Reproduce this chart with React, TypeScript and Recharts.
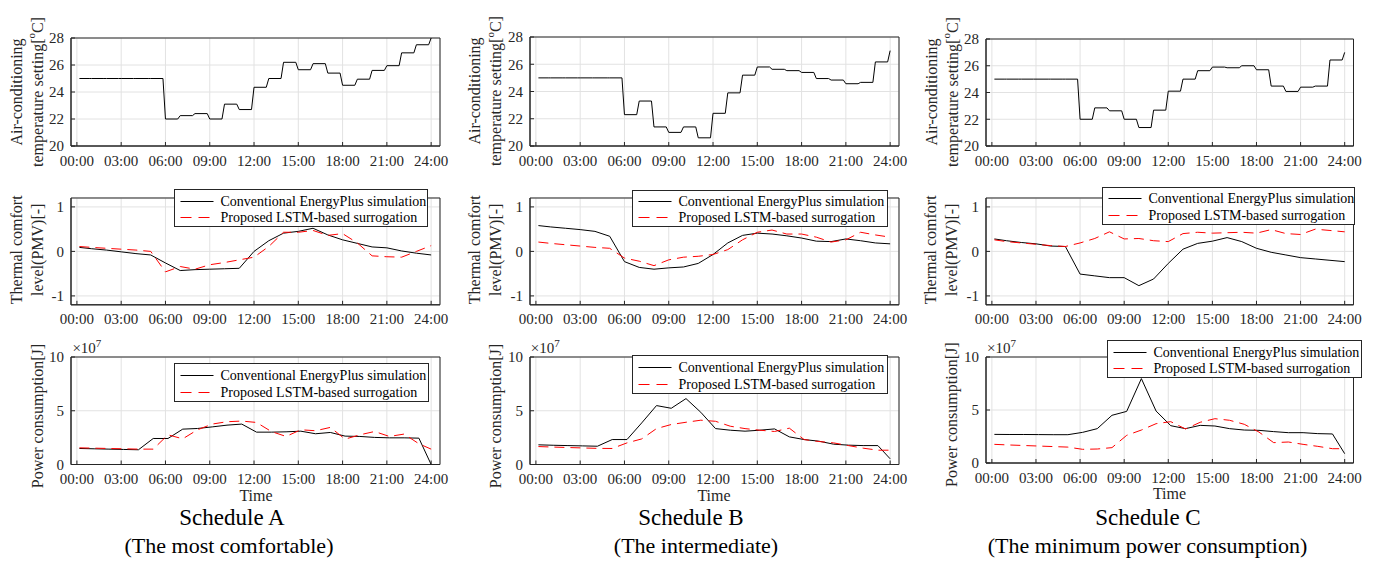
import React from 'react';
import { LineChart, Line, XAxis, YAxis, CartesianGrid, ReferenceArea } from 'recharts';

// ---------- data ----------
const HOUR_TICKS = [0, 3, 6, 9, 12, 15, 18, 21, 24];
const X_DOMAIN: [number, number] = [-0.4, 24.6];

// A/C set-point per hour (00..23) plus the value reached at 24:00
const setpointA = [25, 25, 25, 25, 25, 25, 22.0, 22.25, 22.4, 22.0, 23.1, 22.7, 24.35, 25.0, 26.2, 25.65, 26.1, 25.4, 24.5, 24.95, 25.6, 25.95, 26.9, 27.5, 28.0];
const setpointB = [25, 25, 25, 25, 25, 25, 22.3, 23.3, 21.4, 21.0, 21.4, 20.6, 22.4, 23.9, 25.2, 25.8, 25.63, 25.53, 25.4, 24.95, 24.84, 24.57, 24.67, 26.17, 27.0];
const setpointC = [25, 25, 25, 25, 25, 25, 22.0, 22.85, 22.63, 22.0, 21.38, 22.68, 24.1, 25.0, 25.63, 25.9, 25.85, 26.0, 25.7, 24.48, 24.08, 24.4, 24.48, 26.43, 27.0];

// PMV time stamps (hours)
const pmvTimes = [0.17, 1, 2, 3, 4, 5, 6, 7, 8, 9, 10, 11, 12, 13, 14, 15, 16, 17, 18, 19, 20, 21, 22, 23, 24];
const pmvConvA = [0.09, 0.06, 0.03, -0.01, -0.05, -0.08, -0.26, -0.43, -0.41, -0.40, -0.39, -0.38, 0.0, 0.24, 0.41, 0.45, 0.52, 0.37, 0.26, 0.18, 0.10, 0.08, 0.01, -0.04, -0.08];
const pmvLstmA = [0.11, 0.09, 0.07, 0.05, 0.03, 0.0, -0.46, -0.34, -0.40, -0.30, -0.25, -0.19, -0.13, 0.11, 0.43, 0.43, 0.47, 0.36, 0.40, 0.19, -0.10, -0.12, -0.13, 0.0, 0.13];
const pmvConvB = [0.58, 0.55, 0.52, 0.49, 0.45, 0.34, -0.23, -0.36, -0.40, -0.37, -0.35, -0.27, -0.07, 0.19, 0.36, 0.41, 0.39, 0.35, 0.30, 0.23, 0.22, 0.28, 0.24, 0.19, 0.17];
const pmvLstmB = [0.21, 0.18, 0.15, 0.12, 0.09, 0.07, -0.15, -0.22, -0.32, -0.19, -0.13, -0.11, -0.07, 0.04, 0.26, 0.43, 0.48, 0.39, 0.39, 0.32, 0.21, 0.26, 0.43, 0.37, 0.32];
const pmvConvC = [0.28, 0.24, 0.20, 0.17, 0.12, 0.11, -0.51, -0.55, -0.59, -0.59, -0.77, -0.62, -0.27, 0.05, 0.18, 0.23, 0.31, 0.22, 0.07, -0.02, -0.08, -0.14, -0.17, -0.20, -0.23];
const pmvLstmC = [0.26, 0.22, 0.19, 0.16, 0.13, 0.11, 0.19, 0.29, 0.44, 0.28, 0.29, 0.24, 0.22, 0.40, 0.43, 0.41, 0.42, 0.43, 0.41, 0.49, 0.40, 0.38, 0.50, 0.47, 0.44];

// Power time stamps (hours), values in units of 10^7 J
const powerTimes = [0.17, 1.17, 2.17, 3.17, 4.17, 5.17, 6.17, 7.17, 8.17, 9.17, 10.17, 11.17, 12.17, 13.17, 14.17, 15.17, 16.17, 17.17, 18.17, 19.17, 20.17, 21.17, 22.17, 23.17, 24];
const powConvA = [1.49, 1.46, 1.43, 1.40, 1.37, 2.42, 2.42, 3.29, 3.35, 3.50, 3.66, 3.76, 3.01, 3.01, 3.04, 3.10, 2.86, 2.98, 2.64, 2.61, 2.52, 2.48, 2.48, 2.45, 0.0];
const powLstmA = [1.55, 1.52, 1.49, 1.46, 1.43, 1.43, 2.76, 2.39, 3.23, 3.76, 3.98, 4.04, 3.91, 3.07, 2.61, 3.23, 3.14, 3.45, 2.36, 2.76, 3.07, 2.61, 2.83, 1.93, 1.43];
const powConvB = [1.83, 1.79, 1.76, 1.73, 1.70, 2.32, 2.32, 3.87, 5.48, 5.23, 6.13, 4.86, 3.34, 3.19, 3.10, 3.19, 3.31, 2.57, 2.32, 2.17, 1.89, 1.80, 1.76, 1.76, 0.53];
const powLstmB = [1.67, 1.62, 1.58, 1.54, 1.50, 1.49, 2.01, 2.38, 3.34, 3.72, 3.93, 4.12, 4.02, 3.56, 3.34, 3.19, 3.07, 3.38, 2.32, 2.14, 2.01, 1.76, 1.52, 1.33, 1.33];
const powConvC = [2.70, 2.69, 2.69, 2.68, 2.67, 2.67, 2.89, 3.24, 4.50, 4.87, 7.96, 4.90, 3.52, 3.24, 3.55, 3.49, 3.24, 3.11, 3.08, 2.96, 2.86, 2.86, 2.77, 2.74, 0.88];
const powLstmC = [1.76, 1.70, 1.65, 1.60, 1.55, 1.50, 1.29, 1.32, 1.45, 2.61, 3.11, 3.71, 3.90, 3.21, 3.84, 4.18, 4.03, 3.65, 2.92, 1.92, 1.98, 1.76, 1.57, 1.35, 1.35];

const scheduleTitles = ['Schedule A', 'Schedule B', 'Schedule C'];
const scheduleNotes = ['(The most comfortable)', '(The intermediate)', '(The minimum power consumption)'];
const legendLabels = ['Conventional EnergyPlus simulation', 'Proposed LSTM-based surrogation'];

// ---------- styling ----------
const FONT = "'Liberation Serif', 'Times New Roman', Times, serif";
const AXIS = '#262626';
const GRID = '#e2e2e2';
const RED = '#ff0000';
const DASH = '10 6';

const fmtHour = (h: number) => `${String(h).padStart(2, '0')}:00`;

function stepRamp(values: number[]) {
  const pts: { t: number; sp: number }[] = [{ t: 0.17, sp: values[0] }];
  for (let h = 0; h < 24; h++) {
    pts.push({ t: h + 0.83, sp: values[h] });
    pts.push({ t: h + 1, sp: values[h + 1] });
  }
  return pts;
}
function pair(times: number[], conv: number[], lstm: number[]) {
  return times.map((t, i) => ({ t, conv: conv[i], lstm: lstm[i] }));
}

type LineSpec = { key: string; color: string; dash?: string };

function Panel(props: {
  left: number; top: number; w: number; h: number;
  yDomain: [number, number]; yTicks: number[]; data: any[]; lines: LineSpec[];
}) {
  const { left, top, w, h, yDomain, yTicks, data, lines } = props;
  const tickStyle = { fill: AXIS, fontSize: 15, fontFamily: FONT };
  return (
    <div style={{ position: 'absolute', left: left - 50, top: top - 10 }}>
      <LineChart width={w + 60} height={h + 40} data={data} margin={{ top: 10, right: 10, bottom: 0, left: 0 }}>
        <CartesianGrid stroke={GRID} strokeWidth={1} />
        <XAxis
          dataKey="t" type="number" domain={X_DOMAIN} ticks={HOUR_TICKS} interval={0}
          allowDataOverflow tickFormatter={fmtHour} height={30} stroke={AXIS}
          tickSize={-4} tickMargin={13} tick={tickStyle}
        />
        <YAxis
          type="number" domain={yDomain} ticks={yTicks} interval={0} allowDataOverflow width={50}
          stroke={AXIS} tickSize={-4} tickMargin={11} tick={tickStyle}
        />
        <ReferenceArea x1={X_DOMAIN[0]} x2={X_DOMAIN[1]} y1={yDomain[0]} y2={yDomain[1]}
          fill="none" fillOpacity={0} stroke={AXIS} strokeWidth={1} strokeOpacity={1} />
        {lines.map((l) => (
          <Line key={l.key} dataKey={l.key} type="linear" stroke={l.color} strokeWidth={1}
            strokeDasharray={l.dash} dot={false} activeDot={false} isAnimationActive={false} />
        ))}
      </LineChart>
    </div>
  );
}

function Legend({ x, y, w, h }: { x: number; y: number; w: number; h: number }) {
  const X = Math.round(x) + 0.5;
  const Y = Math.round(y) + 0.5;
  const r1 = Math.round(y + h * 0.32) + 0.5;
  const r2 = Math.round(y + h * 0.77) + 0.5;
  return (
    <g>
      <rect x={X} y={Y} width={Math.round(w)} height={Math.round(h)} fill="#ffffff" stroke={AXIS} strokeWidth={1} />
      <line x1={X + 6} x2={X + 39} y1={r1} y2={r1} stroke="#000" strokeWidth={1} />
      <text x={X + 46} y={r1} dominantBaseline="central" fontSize={14} fontFamily={FONT} fill="#000">{legendLabels[0]}</text>
      <line x1={X + 6} x2={X + 39} y1={r2} y2={r2} stroke={RED} strokeWidth={1.2} strokeDasharray="11 7" />
      <text x={X + 46} y={r2} dominantBaseline="central" fontSize={14} fontFamily={FONT} fill="#000">{legendLabels[1]}</text>
    </g>
  );
}

function RotLabel({ x, y, children, size = 16 }: { x: number; y: number; children: React.ReactNode; size?: number }) {
  return (
    <text x={x} y={y} transform={`rotate(-90 ${x} ${y})`} textAnchor="middle" dominantBaseline="central"
      fontSize={size} fontFamily={FONT} fill={AXIS}>{children}</text>
  );
}

const cols = [
  { left: 71.4, w: 369, r1Top: 38, r1H: 108, r3Top: 357.3, r3H: 107.5,
    sp: setpointA, pc: pmvConvA, pl: pmvLstmA, wc: powConvA, wl: powLstmA,
    leg2: { x: 174, y: 189, w: 253, h: 36.7 }, leg3: { x: 174, y: 362.7, w: 254, h: 38 },
    timeX: 256, timeY: 501, titleX: 232, noteX: 229 },
  { left: 529.8, w: 369, r1Top: 36.5, r1H: 109, r3Top: 357.3, r3H: 107.5,
    sp: setpointB, pc: pmvConvB, pl: pmvLstmB, wc: powConvB, wl: powLstmB,
    leg2: { x: 632, y: 190, w: 255, h: 35.7 }, leg3: { x: 632, y: 355, w: 255, h: 38 },
    timeX: 714, timeY: 501, titleX: 691, noteX: 696 },
  { left: 986, w: 367.5, r1Top: 38.5, r1H: 107, r3Top: 356.7, r3H: 106,
    sp: setpointC, pc: pmvConvC, pl: pmvLstmC, wc: powConvC, wl: powLstmC,
    leg2: { x: 1102, y: 186.7, w: 252, h: 36.6 }, leg3: { x: 1106.7, y: 340, w: 254.3, h: 36.7 },
    timeX: 1169.5, timeY: 499, titleX: 1148, noteX: 1147.5 },
];

const R2_TOP = 198.4;
const R2_H = 106.8;

export default function App() {
  return (
    <div style={{ position: 'absolute', left: 0, top: 0, width: 1375, height: 562, background: '#fff', overflow: 'hidden' }}>
      {cols.map((c, i) => (
        <React.Fragment key={i}>
          <Panel left={c.left} top={c.r1Top} w={c.w} h={c.r1H} yDomain={[20, 28]} yTicks={[20, 22, 24, 26, 28]}
            data={stepRamp(c.sp)} lines={[{ key: 'sp', color: '#000' }]} />
          <Panel left={c.left} top={R2_TOP} w={c.w} h={R2_H} yDomain={[-1.2, 1.2]} yTicks={[-1, 0, 1]}
            data={pair(pmvTimes, c.pc, c.pl)}
            lines={[{ key: 'conv', color: '#000' }, { key: 'lstm', color: RED, dash: DASH }]} />
          <Panel left={c.left} top={c.r3Top} w={c.w} h={c.r3H} yDomain={[0, 10]} yTicks={[0, 5, 10]}
            data={pair(powerTimes, c.wc, c.wl)}
            lines={[{ key: 'conv', color: '#000' }, { key: 'lstm', color: RED, dash: DASH }]} />
        </React.Fragment>
      ))}
      <svg width={1375} height={562} style={{ position: 'absolute', left: 0, top: 0, pointerEvents: 'none' }}>
        {cols.map((c, i) => (
          <g key={i}>
            <RotLabel x={c.left - 55} y={c.r1Top + c.r1H / 2}>Air-conditioning</RotLabel>
            <RotLabel x={c.left - 34} y={c.r1Top + c.r1H / 2}>
              temperature setting[<tspan baselineShift="super" fontSize={11}>o</tspan>C]
            </RotLabel>
            <RotLabel x={c.left - 55} y={R2_TOP + R2_H / 2 - 2}>Thermal comfort</RotLabel>
            <RotLabel x={c.left - 34} y={R2_TOP + R2_H / 2 - 2}>level(PMV)[-]</RotLabel>
            <RotLabel x={c.left - 34} y={c.r3Top + c.r3H / 2 + 5}>Power consumption[J]</RotLabel>
            <text x={c.left + 1} y={c.r3Top - 4} fontSize={15} fontFamily={FONT} fill={AXIS}>
              ×10<tspan baselineShift="super" fontSize={11}>7</tspan>
            </text>
            <Legend {...c.leg2} />
            <Legend {...c.leg3} />
            <text x={c.timeX} y={c.timeY} textAnchor="middle" fontSize={16} fontFamily={FONT} fill={AXIS}>Time</text>
            <text x={c.titleX} y={525} textAnchor="middle" fontSize={23} fontFamily={FONT} fill="#000">{scheduleTitles[i]}</text>
            <text x={c.noteX} y={553} textAnchor="middle" fontSize={22} fontFamily={FONT} fill="#000">{scheduleNotes[i]}</text>
          </g>
        ))}
      </svg>
    </div>
  );
}
